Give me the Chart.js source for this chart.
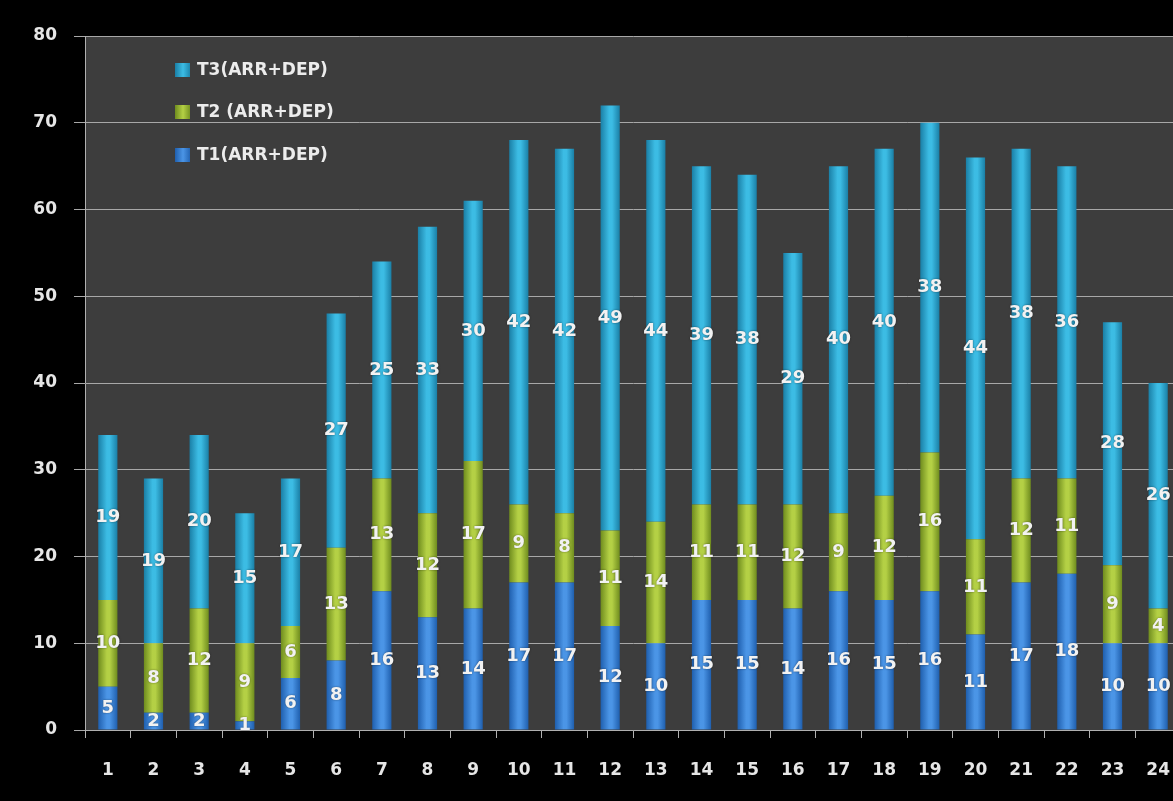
<!DOCTYPE html>
<html>
<head>
<meta charset="utf-8">
<script src="https://cdn.jsdelivr.net/npm/chart.js@4/dist/chart.umd.min.js"></script>
<style>
html,body{margin:0;padding:0;background:#000;overflow:hidden;}
#wrap{position:relative;width:1192px;height:801px;}
</style>
</head>
<body>
<div id="wrap"><canvas id="c" width="1192" height="801"></canvas></div>
<script>
const categories = ['1','2','3','4','5','6','7','8','9','10','11','12','13','14','15','16','17','18','19','20','21','22','23','24'];
const t1 = [5,2,2,1,6,8,16,13,14,17,17,12,10,15,15,14,16,15,16,11,17,18,10,10];
const t2 = [10,8,12,9,6,13,13,12,17,9,8,11,14,11,11,12,9,12,16,11,12,11,9,4];
const t3 = [19,19,20,15,17,27,25,33,30,42,42,49,44,39,38,29,40,40,38,44,38,36,28,26];
const seriesNames = ['T1(ARR+DEP)', 'T2 (ARR+DEP)', 'T3(ARR+DEP)'];
const yTicks = [0,10,20,30,40,50,60,70,80];

const palettes = [
  ['#1f5fae', '#4b95e6', '#2a6cc0'],
  ['#6f8c1e', '#b4d045', '#86a42a'],
  ['#1a7fa6', '#3cbce4', '#2096c0']
];
const BAR_PCT = 0.42;
function grad(pal){
  return function(context){
    const chart = context.chart;
    const xs = chart.scales && chart.scales.x;
    if (!xs || typeof context.dataIndex !== 'number') return pal[2];
    const cx = xs.getPixelForValue(context.dataIndex);
    const w = (xs.width / categories.length) * BAR_PCT;
    if (!isFinite(cx) || !isFinite(w) || w <= 0) return pal[2];
    const g = chart.ctx.createLinearGradient(cx - w/2, 0, cx + w/2, 0);
    g.addColorStop(0, pal[0]);
    g.addColorStop(0.45, pal[1]);
    g.addColorStop(0.6, pal[1]);
    g.addColorStop(1, pal[0]);
    return g;
  };
}

const bgPlugin = {
  id: 'bg',
  beforeDraw(chart){
    const {ctx, chartArea:a} = chart;
    ctx.save();
    ctx.fillStyle = '#000';
    ctx.fillRect(0,0,chart.width,chart.height);
    ctx.fillStyle = '#3d3d3d';
    ctx.fillRect(a.left, a.top, a.right - a.left, a.bottom - a.top);
    ctx.restore();
  }
};

const labelPlugin = {
  id: 'vals',
  afterDatasetsDraw(chart){
    const ctx = chart.ctx;
    ctx.save();
    ctx.font = 'bold 18px "DejaVu Sans"';
    ctx.textAlign = 'center';
    ctx.textBaseline = 'middle';
    ctx.fillStyle = '#f2f2f2';
    ctx.shadowColor = 'rgba(0,0,0,0.5)';
    ctx.shadowBlur = 2;
    chart.data.datasets.forEach((ds, di) => {
      const meta = chart.getDatasetMeta(di);
      meta.data.forEach((el, i) => {
        const y = (el.y + el.base) / 2;
        ctx.fillText(String(ds.data[i]), el.x, y);
      });
    });
    ctx.restore();
  }
};

const legendPlugin = {
  id: 'customLegend',
  afterDraw(chart){
    const ctx = chart.ctx;
    ctx.save();
    ctx.font = 'bold 17px "DejaVu Sans"';
    ctx.textBaseline = 'middle';
    ctx.textAlign = 'left';
    const rows = [70, 112, 155];
    const order = [2, 1, 0];
    order.forEach((di, r) => {
      const y = rows[r];
      const pal = palettes[di];
      const g = ctx.createLinearGradient(175, 0, 191, 0);
      g.addColorStop(0, pal[0]); g.addColorStop(0.5, pal[1]); g.addColorStop(1, pal[0]);
      ctx.fillStyle = g;
      ctx.fillRect(175, y - 7, 15, 14);
      ctx.fillStyle = '#ececec';
      ctx.fillText(chart.data.datasets[di].label, 197, y + 1);
    });
    ctx.restore();
  }
};

const datasets = [t1, t2, t3].map((d, i) => ({
  label: seriesNames[i],
  data: d,
  backgroundColor: grad(palettes[i]),
  borderWidth: 0,
  barPercentage: BAR_PCT,
  categoryPercentage: 1.0
}));

new Chart(document.getElementById('c'), {
  type: 'bar',
  data: { labels: categories, datasets },
  plugins: [bgPlugin, labelPlugin, legendPlugin],
  options: {
    responsive: false,
    animation: false,
    events: [],
    layout: { padding: { top: 36, right: 0, left: 0, bottom: 0 } },
    plugins: { legend: { display: false }, tooltip: { enabled: false } },
    scales: {
      x: {
        stacked: true,
        grid: { display: true, drawOnChartArea: false, drawTicks: true, tickLength: 8, color: '#b0b0b0', offset: true },
        border: { display: true, color: '#b0b0b0', width: 1 },
        ticks: { color: '#e6e6e6', font: { family: 'DejaVu Sans', weight: 'bold', size: 17 }, padding: 22, maxRotation: 0, autoSkip: false },
        afterFit(s){ s.height = 71; }
      },
      y: {
        stacked: true,
        min: 0, max: 80,
        afterBuildTicks(s){ s.ticks = yTicks.map(v => ({ value: v })); },
        grid: { color: '#a8a8a8', lineWidth: 1, tickLength: 11, drawTicks: true },
        border: { display: true, color: '#b0b0b0', width: 1 },
        ticks: { color: '#e6e6e6', font: { family: 'DejaVu Sans', weight: 'bold', size: 17 }, padding: 17 },
        afterFit(s){ s.width = 85; }
      }
    }
  }
});
</script>
</body>
</html>
